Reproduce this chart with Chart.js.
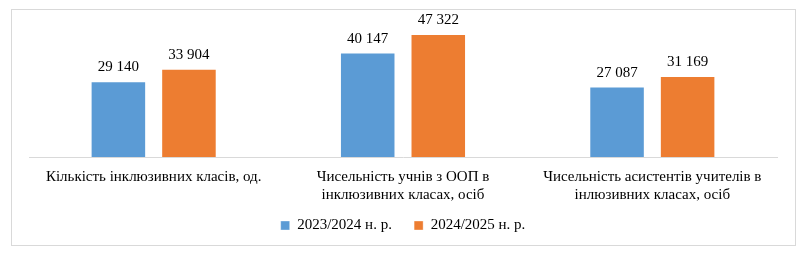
<!DOCTYPE html>
<html>
<head>
<meta charset="utf-8">
<script src="https://cdn.jsdelivr.net/npm/chart.js@4.4.1/dist/chart.umd.min.js"></script>
<style>
  html, body { margin: 0; padding: 0; background: #fff; }
  #frame {
    position: absolute; left: 11px; top: 9px;
    width: 783px; height: 235px;
    border: 1px solid #d9d9d9;
  }
  canvas { display: block; }
</style>
</head>
<body>
<div id="frame"><canvas id="chart" width="783" height="235"></canvas></div>
<script>
// категорії
const categories = [
    ['Кількість інклюзивних класів, од.'],
    ['Чисельність учнів з ООП в', 'інклюзивних класах, осіб'],
    ['Чисельність асистентів учителів в', 'інлюзивних класах, осіб']
];
const seriesNames = ['2023/2024 н. р.', '2024/2025 н. р.'];
const values2023 = [29140, 40147, 27087];
const values2024 = [33904, 47322, 31169];
const yMax = 50000;

const FONT = 'Liberation Serif, Times New Roman, serif';

// число з пробілом між тисячами
function fmt(v) {
    return String(v).replace(/\B(?=(\d{3})+(?!\d))/g, ' ');
}

// підписи значень над стовпчиками
const valueLabels = {
    id: 'valueLabels',
    afterDatasetsDraw(chart) {
        const ctx = chart.ctx;
        ctx.save();
        ctx.font = '15px ' + FONT;
        ctx.fillStyle = '#000';
        ctx.textAlign = 'center';
        ctx.textBaseline = 'alphabetic';
        chart.data.datasets.forEach((ds, i) => {
            chart.getDatasetMeta(i).data.forEach((bar, j) => {
                ctx.fillText(fmt(ds.data[j]), bar.x, bar.y - 10);
            });
        });
        ctx.restore();
    }
};

new Chart(document.getElementById('chart'), {
    type: 'bar',
    data: {
        labels: categories,
        datasets: [
            {
                label: seriesNames[0],
                data: values2023,
                backgroundColor: '#5b9bd5',
                borderColor: 'rgba(255,255,255,0.35)',
                borderWidth: 1
            },
            {
                label: seriesNames[1],
                data: values2024,
                backgroundColor: '#ed7d31',
                borderColor: 'rgba(255,255,255,0.35)',
                borderWidth: 1
            }
        ]
    },
    options: {
        responsive: false,
        animation: false,
        maintainAspectRatio: false,
        barPercentage: 0.787,
        categoryPercentage: 0.566,
        layout: { padding: { left: 17, right: 18, top: 17, bottom: 2 } },
        plugins: {
            legend: {
                position: 'bottom',
                labels: {
                    boxWidth: 9,
                    boxHeight: 9,
                    padding: 11,
                    color: '#000',
                    font: { family: FONT, size: 15 },
                    // трохи більший проміжок між елементами легенди
                    generateLabels(chart) {
                        const items = Chart.defaults.plugins.legend.labels.generateLabels(chart);
                        items.forEach((it, i) => {
                            if (i < items.length - 1) it.text += '\u00a0\u00a0\u00a0';
                        });
                        return items;
                    }
                }
            },
            tooltip: { enabled: false }
        },
        scales: {
            y: {
                display: false,
                min: 0,
                max: yMax
            },
            x: {
                grid: { display: false },
                border: { display: true, color: '#d9d9d9', width: 1 },
                ticks: {
                    color: '#000',
                    padding: 3,
                    maxRotation: 0,
                    autoSkip: false,
                    font: { family: FONT, size: 15, lineHeight: 1.2 }
                }
            }
        }
    },
    plugins: [valueLabels]
});
</script>
</body>
</html>
